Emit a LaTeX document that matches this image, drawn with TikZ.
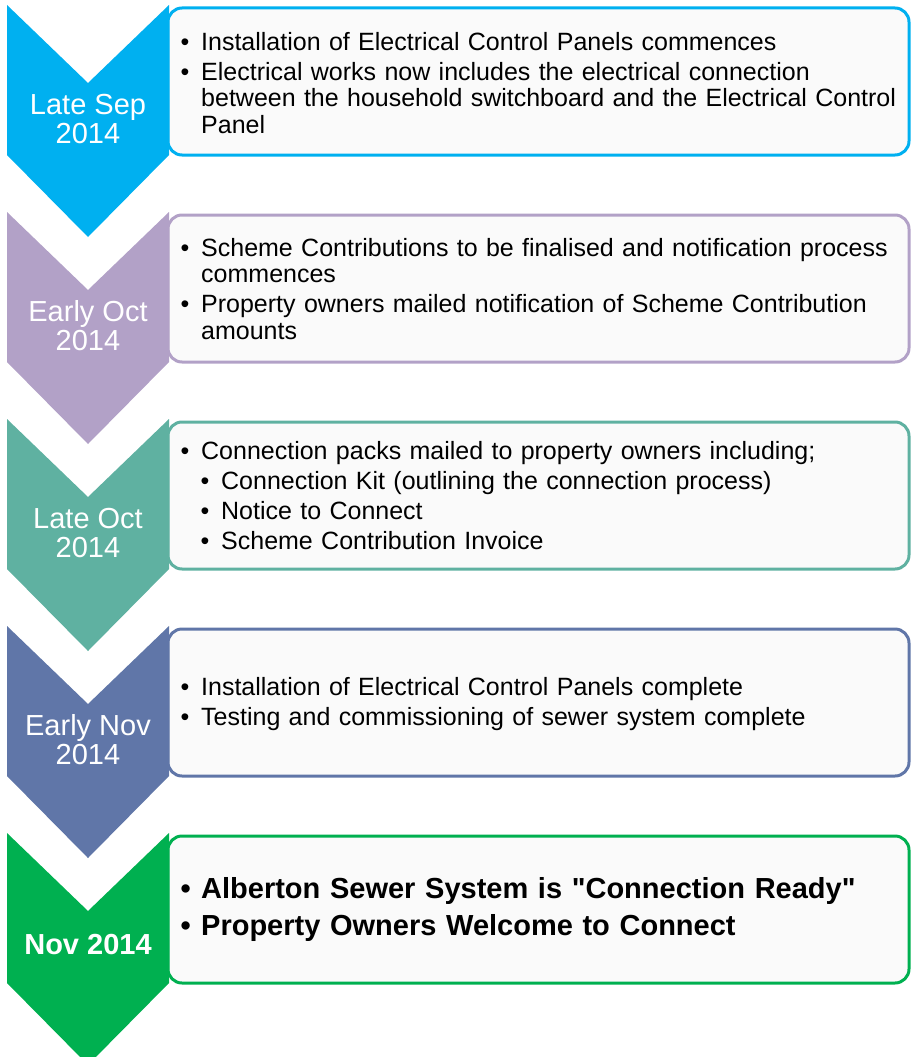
\documentclass[tikz,border=0pt]{standalone}
\usepackage{fontspec}
\setmainfont{Liberation Sans}
\definecolor{sepblue}{HTML}{00B0F0}
\definecolor{octlilac}{HTML}{B2A1C7}
\definecolor{octteal}{HTML}{5FB1A1}
\definecolor{novslate}{HTML}{6076A8}
\definecolor{novgreen}{HTML}{00B050}
\definecolor{boxfill}{HTML}{FAFAFA}
\newcommand{\bitem}[1]{\noindent\hangindent=20.5pt\hangafter=1\makebox[20.5pt][l]{\textbullet}#1\par}
\newcommand{\sitem}[1]{\noindent\hangindent=40.5pt\hangafter=1\hspace*{20pt}\makebox[20.5pt][l]{\textbullet}#1\par}

\begin{document}
\begin{tikzpicture}[x=1pt,y=-1pt,
    chevron/.pic={\fill[pic actions] (0,0) -- (81,78) -- (162,0) -- (162,150) -- (81,232) -- (0,150) -- cycle;},
    stagebox/.style={fill=boxfill,line width=3pt,rounded corners=14pt},
    when/.style={text=white,align=center,inner sep=0pt,font=\fontsize{29}{29}\selectfont},
    what/.style={anchor=west,inner sep=0pt,text width=720pt,align=left,
      font=\fontsize{25}{26.5}\selectfont\setlength\parskip{3.5pt}},
    whatbold/.style={what,font=\fontsize{29}{37}\selectfont\bfseries}]
   \useasboundingbox (0,0) rectangle (911,1057);
   \draw[stagebox,draw=sepblue]   (168,8)   -- (909,8)   -- (909,155)  -- (168,155)  -- cycle;
   \pic[fill=sepblue]   at (7,5)   {chevron};
   \draw[stagebox,draw=octlilac]  (168,215) -- (909,215) -- (909,362)  -- (168,362)  -- cycle;
   \pic[fill=octlilac]  at (7,212) {chevron};
   \draw[stagebox,draw=octteal]   (168,422) -- (909,422) -- (909,569)  -- (168,569)  -- cycle;
   \pic[fill=octteal]   at (7,419) {chevron};
   \draw[stagebox,draw=novslate]  (168,629) -- (909,629) -- (909,776)  -- (168,776)  -- cycle;
   \pic[fill=novslate]  at (7,626) {chevron};
   \draw[stagebox,draw=novgreen]  (168,836) -- (909,836) -- (909,983)  -- (168,983)  -- cycle;
   \pic[fill=novgreen]  at (7,833) {chevron};

   \node[when] (late_sep) at (88,119) {Late Sep\\2014};
   \node[when] (early_oct) at (88,326) {Early Oct\\2014};
   \node[when] (late_oct) at (88,533) {Late Oct\\2014};
   \node[when] (early_nov) at (88,740) {Early Nov\\2014};
   \node[when,font=\fontsize{29}{29}\selectfont\bfseries] (nov) at (88,945) {Nov 2014};

   \node[what] (sep_list) at (180.5,83) {%
     \bitem{Installation of Electrical Control Panels commences}%
     \bitem{Electrical works now includes the electrical connection\newline between the household switchboard and the Electrical Control\newline Panel}};
   \node[what] (oct_list) at (180.5,289) {%
     \bitem{Scheme Contributions to be finalised and notification process\newline commences}%
     \bitem{Property owners mailed notification of Scheme Contribution\newline amounts}};
   \node[what] (packs_list) at (180.5,495.5) {%
     \bitem{Connection packs mailed to property owners including;}%
     \sitem{Connection Kit (outlining the connection process)}%
     \sitem{Notice to Connect}%
     \sitem{Scheme Contribution Invoice}};
   \node[what] (nov_list) at (180.5,704) {%
     \bitem{Installation of Electrical Control Panels complete}%
     \bitem{Testing and commissioning of sewer system complete}};
   \node[whatbold] (ready_list) at (180.5,909.5) {%
     \bitem{Alberton Sewer System is \textquotedbl Connection Ready\textquotedbl}%
     \bitem{Property Owners Welcome to Connect}};
\end{tikzpicture}
\end{document}
